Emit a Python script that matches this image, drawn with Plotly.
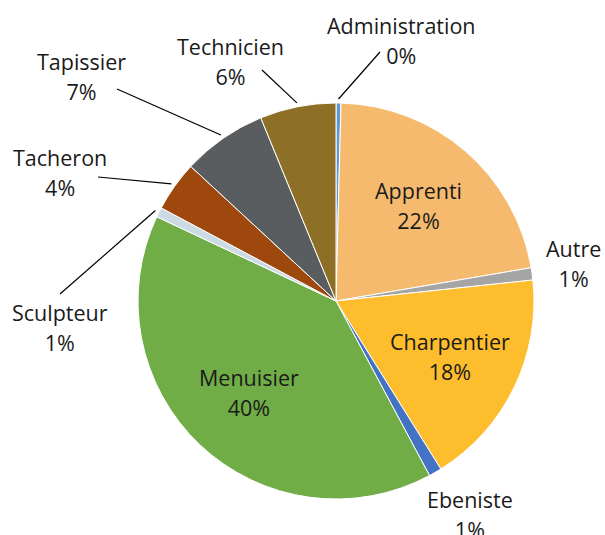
import math
import plotly.graph_objects as go

# ---- data ----
categories = ["Administration", "Apprenti", "Autre", "Charpentier", "Ebeniste",
              "Menuisier", "Sculpteur", "Tacheron", "Tapissier", "Technicien"]
values = [0.4, 21.9, 1.0, 17.8, 1.05, 39.8, 0.8, 4.1, 6.9, 6.2]
colors = ["#5B9BD5", "#F6BA6F", "#A5A5A5", "#FEBD2C", "#4472C4",
          "#70AD47", "#CCDAE4", "#9E480E", "#5A5D5F", "#8E6F26"]

inside_labels = ["Apprenti", "Charpentier", "Menuisier"]
# outside label text centres (pixels)
outside_labels = {
    "Administration": (401, 40),
    "Technicien": (230, 61),
    "Tapissier": (82, 77),
    "Tacheron": (60, 172),
    "Sculpteur": (60, 327),
    "Autre": (573, 263),
    "Ebeniste": (470, 514),
}
# leader line start points (pixels, near the label)
leader_starts = {
    "Administration": (380, 52),
    "Technicien": (262, 70),
    "Tapissier": (117, 89),
    "Tacheron": (98, 177),
    "Sculpteur": (60, 294),
}

# ---- layout geometry ----
W, H = 605, 535
CX, CY, R = 336, 301, 198
FONT = "Open Sans"
TXT = "#1a1a1a"
FS = 21.5

def px2paper(x, y):
    return x / W, 1 - y / H

total = sum(values)
fracs = [v / total for v in values]
cum = 0
mid_angles = {}
for c, f in zip(categories, fracs):
    mid_angles[c] = (cum + f / 2) * 360
    cum += f

def lab(c, f):
    return ("<span style='font-size:%spx'>%s</span><br>"
            "<span style='font-size:%spx'>%d%%</span>") % (FS, c, FS, round(f * 100))

fig = go.Figure(go.Pie(
    labels=categories, values=values, sort=False, direction="clockwise",
    rotation=0, textinfo="none", hoverinfo="label+percent",
    marker=dict(colors=colors, line=dict(color="white", width=1)),
    domain=dict(x=[(CX - R) / W, (CX + R) / W],
                y=[1 - (CY + R) / H, 1 - (CY - R) / H]),
    showlegend=False,
))

annotations = []
shapes = []
for c, f in zip(categories, fracs):
    th = math.radians(mid_angles[c])
    if c in inside_labels:
        r = 0.64 * R
        x, y = px2paper(CX + r * math.sin(th), CY - r * math.cos(th))
    else:
        x, y = px2paper(*outside_labels[c])
        if c in leader_starts:
            r = R + 4
            ex, ey = CX + r * math.sin(th), CY - r * math.cos(th)
            x0, y0 = px2paper(*leader_starts[c])
            x1, y1 = px2paper(ex, ey)
            shapes.append(dict(type="line", xref="paper", yref="paper",
                               x0=x0, y0=y0, x1=x1, y1=y1,
                               line=dict(color="#000000", width=1.2)))
    annotations.append(dict(x=x, y=y, xref="paper", yref="paper",
                            xanchor="center", yanchor="middle",
                            text=lab(c, f), showarrow=False,
                            font=dict(family=FONT, size=22.7, color=TXT)))

fig.update_layout(
    width=W, height=H, margin=dict(l=0, r=0, t=0, b=0),
    paper_bgcolor="white", plot_bgcolor="white",
    annotations=annotations, shapes=shapes,
)

fig.write_html("out.html", config={"displayModeBar": False},
               post_script="document.body.style.margin='0px';")
